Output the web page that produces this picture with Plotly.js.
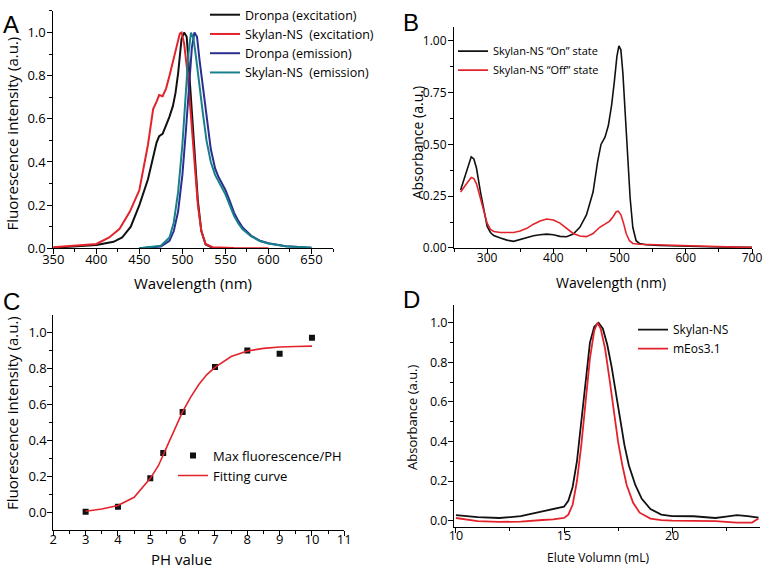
<!DOCTYPE html>
<html>
<head>
<meta charset="utf-8">
<script src="https://cdn.plot.ly/plotly-3.0.1.min.js"></script>
<style>
  html, body { margin: 0; padding: 0; background: #fff; }
  #chart { width: 763px; height: 568px; }
</style>
</head>
<body>
<div id="chart"></div>
<script>
// ---- Panel A: fluorescence spectra ----
const dronpaExX = [350, 400, 420, 430, 440, 450, 460, 465, 470, 473, 477, 481, 485, 489, 492, 495, 497, 499, 502, 505, 507, 510, 514, 518, 522, 527, 535, 550];
const dronpaExY = [0.003, 0.015, 0.03, 0.05, 0.1, 0.2, 0.32, 0.4, 0.49, 0.52, 0.53, 0.57, 0.61, 0.66, 0.72, 0.81, 0.9, 0.97, 1.0, 0.98, 0.87, 0.69, 0.45, 0.22, 0.08, 0.017, 0.003, 0];

const skylanExX = [350, 400, 415, 427, 439, 450, 460, 466, 470, 473, 477, 481, 485, 489, 493, 497, 499, 502, 506, 510, 514, 518, 522, 527, 535, 560, 600];
const skylanExY = [0.005, 0.02, 0.05, 0.09, 0.17, 0.27, 0.48, 0.645, 0.68, 0.71, 0.705, 0.74, 0.8, 0.86, 0.93, 0.995, 1.0, 0.95, 0.81, 0.61, 0.39, 0.2, 0.08, 0.02, 0.005, 0.001, 0];

const dronpaEmX = [450, 475, 485, 490, 495, 500, 504, 508, 511, 514, 517, 520, 524, 528, 533, 538, 542, 546, 550, 555, 560, 565, 570, 580, 590, 600, 620, 650];
const dronpaEmY = [0, 0.008, 0.035, 0.08, 0.17, 0.34, 0.54, 0.78, 0.93, 1.0, 0.98, 0.87, 0.74, 0.6, 0.46, 0.37, 0.33, 0.3, 0.27, 0.22, 0.165, 0.127, 0.096, 0.058, 0.035, 0.023, 0.009, 0.002];

const skylanEmX = [450, 475, 485, 490, 495, 500, 504, 507, 510, 513, 516, 520, 524, 528, 533, 538, 542, 546, 550, 555, 560, 565, 570, 580, 590, 600, 620, 650];
const skylanEmY = [0, 0.012, 0.05, 0.12, 0.26, 0.48, 0.72, 0.9, 1.0, 0.97, 0.88, 0.74, 0.62, 0.5, 0.4, 0.34, 0.31, 0.28, 0.25, 0.2, 0.15, 0.115, 0.088, 0.055, 0.034, 0.022, 0.009, 0.002];

// ---- Panel B: absorbance on/off ----
const absOnX = [260, 268, 276, 280, 284, 290, 295, 300, 305, 310, 320, 330, 340, 350, 360, 370, 380, 390, 400, 410, 420, 430, 440, 450, 460, 467, 472, 478, 483, 488, 492, 496, 499, 502, 505, 508, 512, 516, 520, 525, 530, 540, 560, 600, 650, 700];
const absOnY = [0.28, 0.36, 0.44, 0.43, 0.385, 0.27, 0.18, 0.105, 0.075, 0.06, 0.048, 0.038, 0.032, 0.041, 0.05, 0.059, 0.064, 0.067, 0.064, 0.056, 0.054, 0.067, 0.1, 0.16, 0.27, 0.42, 0.5, 0.535, 0.59, 0.69, 0.8, 0.925, 0.976, 0.957, 0.845, 0.69, 0.45, 0.24, 0.1, 0.035, 0.022, 0.016, 0.012, 0.008, 0.005, 0.003];

const absOffX = [260, 265, 270, 276, 280, 284, 290, 295, 300, 305, 310, 320, 330, 340, 350, 360, 370, 380, 390, 400, 410, 420, 430, 440, 450, 460, 470, 478, 485, 490, 495, 498, 502, 506, 510, 515, 520, 530, 550, 580, 620, 660, 700];
const absOffY = [0.27, 0.29, 0.315, 0.34, 0.335, 0.31, 0.24, 0.17, 0.12, 0.09, 0.08, 0.075, 0.075, 0.075, 0.082, 0.095, 0.115, 0.13, 0.14, 0.135, 0.12, 0.095, 0.07, 0.058, 0.055, 0.07, 0.1, 0.115, 0.13, 0.15, 0.175, 0.178, 0.16, 0.12, 0.07, 0.035, 0.022, 0.018, 0.016, 0.012, 0.008, 0.006, 0.002];

// ---- Panel C: pH titration ----
const phPoints = [3, 4, 5, 5.4, 6, 7, 8, 9, 10];
const phIntensity = [0.005, 0.033, 0.19, 0.33, 0.557, 0.807, 0.898, 0.88, 0.969];
const fitX = [3, 3.5, 4, 4.5, 5, 5.25, 5.5, 5.75, 6, 6.25, 6.5, 6.75, 7, 7.5, 8, 8.5, 9, 9.5, 10];
const fitY = [0.008, 0.02, 0.04, 0.085, 0.19, 0.26, 0.36, 0.46, 0.56, 0.64, 0.71, 0.765, 0.805, 0.865, 0.896, 0.91, 0.918, 0.921, 0.923];

// ---- Panel D: gel filtration ----
const skylanSecX = [10, 11, 12, 13, 14, 14.5, 15, 15.2, 15.4, 15.6, 15.8, 16.0, 16.2, 16.4, 16.6, 16.8, 17.0, 17.2, 17.4, 17.6, 17.8, 18.0, 18.3, 18.6, 19, 19.5, 20, 21, 22, 22.5, 23, 23.5, 24];
const skylanSecY = [0.028, 0.017, 0.013, 0.022, 0.047, 0.058, 0.07, 0.1, 0.17, 0.3, 0.5, 0.72, 0.9, 0.98, 1.0, 0.97, 0.89, 0.78, 0.65, 0.52, 0.38, 0.28, 0.18, 0.11, 0.058, 0.03, 0.023, 0.022, 0.013, 0.02, 0.028, 0.023, 0.015];
const meosSecX = [10, 11, 12, 13, 14, 14.5, 15, 15.2, 15.4, 15.6, 15.8, 16.0, 16.2, 16.4, 16.55, 16.7, 16.9, 17.1, 17.3, 17.5, 17.7, 17.9, 18.2, 18.5, 19, 19.5, 20, 21, 22, 23, 23.7, 24];
const meosSecY = [0.013, -0.003, -0.007, -0.005, 0.003, 0.006, 0.013, 0.03, 0.08, 0.2, 0.38, 0.6, 0.82, 0.96, 1.0, 0.97, 0.87, 0.72, 0.55, 0.4, 0.28, 0.18, 0.09, 0.04, 0.01, 0.002, 0, 0, -0.003, -0.01, -0.01, 0.01];

const W = 763, H = 568;
const FONT = "Open Sans, Noto Sans, sans-serif";
const RED = "#e3232b", NAVY = "#2b2e8f", TEAL = "#17808a";

// pixel position -> paper coordinates
function px(x, y) {
  return { x: x / W, y: 1 - y / H };
}

function axis(range, dtick, minorDtick, domain, anchor, tickformat, fontSize, standoff) {
  return {
    range,
    domain,
    anchor,
    dtick,
    tick0: 0,
    tickformat,
    showgrid: false,
    zeroline: false,
    showline: true,
    linecolor: "#000",
    linewidth: 1,
    ticks: "outside",
    ticklen: 5,
    tickwidth: 1,
    tickcolor: "#000",
    ticklabelstandoff: standoff,
    tickfont: { family: FONT, size: fontSize, color: "#000" },
    minor: { ticks: "outside", ticklen: 3, tickcolor: "#000", dtick: minorDtick, showgrid: false },
  };
}

function line(x, y, name, color, xa, ya, legend, width) {
  return {
    x, y, name, type: "scatter", mode: "lines",
    line: { color, width: width || 1.8 },
    xaxis: xa, yaxis: ya, legend,
  };
}

const data = [
  line(dronpaExX, dronpaExY, "Dronpa (excitation)", "#111", "x", "y", "legend", 2),
  line(skylanExX, skylanExY, "Skylan-NS  (excitation)", RED, "x", "y", "legend", 2),
  line(dronpaEmX, dronpaEmY, "Dronpa (emission)", NAVY, "x", "y", "legend", 2),
  line(skylanEmX, skylanEmY, "Skylan-NS  (emission)", TEAL, "x", "y", "legend", 2),

  line(absOnX, absOnY, "Skylan-NS “On” state", "#111", "x2", "y2", "legend2", 1.6),
  line(absOffX, absOffY, "Skylan-NS “Off” state", RED, "x2", "y2", "legend2", 1.6),

  {
    x: phPoints, y: phIntensity, name: "Max fluorescence/PH", type: "scatter", mode: "markers",
    marker: { symbol: "square", size: 6, color: "#111" },
    xaxis: "x3", yaxis: "y3", legend: "legend3",
  },
  line(fitX, fitY, "Fitting curve", RED, "x3", "y3", "legend3", 1.6),

  line(skylanSecX, skylanSecY, "Skylan-NS", "#111", "x4", "y4", "legend4", 1.8),
  line(meosSecX, meosSecY, "mEos3.1", RED, "x4", "y4", "legend4", 1.8),
];

function legendAt(x, y, size) {
  const p = px(x, y);
  return {
    x: p.x, y: p.y, xanchor: "left", yanchor: "top",
    bgcolor: "rgba(0,0,0,0)",
    font: { family: FONT, size, color: "#000" },
    itemwidth: 30,
    tracegroupgap: 0,
  };
}

function label(text, x, y, size, angle) {
  const p = px(x, y);
  return {
    text, x: p.x, y: p.y, xref: "paper", yref: "paper",
    xanchor: "center", yanchor: "middle", showarrow: false,
    textangle: angle || 0,
    font: { family: FONT, size, color: "#000" },
  };
}

function letter(text, x, y) {
  const p = px(x, y);
  return {
    text, x: p.x, y: p.y, xref: "paper", yref: "paper",
    xanchor: "left", yanchor: "top", showarrow: false,
    font: { family: "Liberation Sans, Arial, sans-serif", size: 24, color: "#000" },
  };
}

const layout = {
  width: W,
  height: H,
  margin: { l: 0, r: 0, t: 0, b: 0 },
  paper_bgcolor: "#fff",
  plot_bgcolor: "rgba(0,0,0,0)",
  showlegend: true,

  xaxis: axis([350, 675], 50, 25, [53.3 / W, 333 / W], "y", "d", 13, -6),
  yaxis: axis([0, 1.1], 0.2, 0.1, [1 - 244.3 / H, 1 - 4 / H], "x", ".1f", 13, -1),

  xaxis2: axis([250, 700], 100, 50, [454 / W, 752 / W], "y2", "d", 12, -6),
  yaxis2: axis([0, 1.065], 0.25, 0.125, [1 - 244 / H, 1 - 20.7 / H], "x2", ".2f", 12, -1),

  xaxis3: axis([2, 11], 1, 0.5, [53.3 / W, 344.3 / W], "y3", "d", 13, -7),
  yaxis3: axis([-0.095, 1.096], 0.2, 0.1, [1 - 529.3 / H, 1 - 311.7 / H], "x3", ".1f", 13, -2),

  xaxis4: axis([9.91, 24.07], 5, 2.5, [454 / W, 760 / W], "y4", "d", 12.5, -8),
  yaxis4: axis([-0.03, 1.09], 0.2, 0.1, [1 - 526 / H, 1 - 301.7 / H], "x4", ".1f", 12.5, -2),

  legend: legendAt(205, -7, 12.5),
  legend2: legendAt(453, 30, 11),
  legend3: legendAt(173, 439, 13),
  legend4: legendAt(633, 312, 12),

  annotations: [
    letter("A", 1, 2),
    letter("B", 401, 0),
    letter("C", 1, 282),
    letter("D", 401, 280),

    label("Fluorescence intensity (a.u.)", 12, 128, 15, -90),
    label("Wavelength (nm)", 193, 279, 15),
    label("Absorbance (a.u.)", 417, 137, 14, -90),
    label("Wavelength (nm)", 611, 279, 14),
    label("Fluorescence intensity (a.u.)", 12, 411, 15, -90),
    label("PH value", 181, 559, 15),
    label("Absorbance (a.u.)", 412, 415, 13, -90),
    label("Elute Volumn (mL)", 598, 557, 12),
  ],
};

Plotly.newPlot("chart", data, layout, { staticPlot: true, displayModeBar: false });
</script>
</body>
</html>
